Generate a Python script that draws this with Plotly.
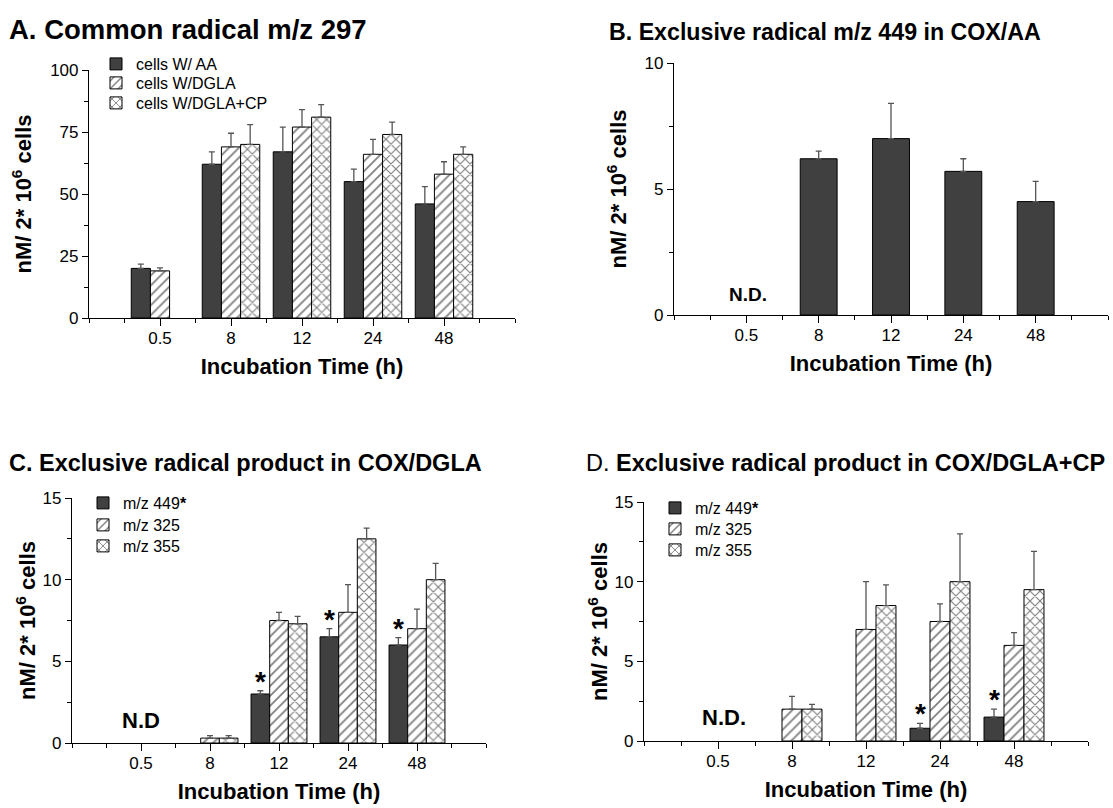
import plotly.graph_objects as go

# ---------------- data ----------------
times = ['0.5', '8', '12', '24', '48']

a_names = ['cells W/ AA', 'cells W/DGLA', 'cells W/DGLA+CP']
a_aa = [20, 62, 67, 55, 46]
a_aa_err = [1.7, 5, 10, 5, 7]
a_dgla = [19, 69, 77, 66, 58]
a_dgla_err = [1.2, 5.5, 7, 6, 5]
a_cp = [None, 70, 81, 74, 66]
a_cp_err = [None, 8, 5, 5, 3]

b_name = 'm/z 449'
b_449 = [None, 6.2, 7.0, 5.7, 4.5]
b_449_err = [None, 0.3, 1.4, 0.5, 0.8]

mz_names = ['m/z 449<b>*</b>', 'm/z 325', 'm/z 355']
c_449 = [None, None, 3.0, 6.5, 6.0]
c_449_err = [None, None, 0.2, 0.5, 0.45]
c_325 = [None, 0.3, 7.5, 8.0, 7.0]
c_325_err = [None, 0.15, 0.5, 1.7, 1.2]
c_355 = [None, 0.3, 7.3, 12.5, 10.0]
c_355_err = [None, 0.15, 0.45, 0.65, 1.0]
c_sig = [False, False, True, True, True]

d_449 = [None, None, None, 0.8, 1.5]
d_449_err = [None, None, None, 0.3, 0.5]
d_325 = [None, 2.0, 7.0, 7.5, 6.0]
d_325_err = [None, 0.8, 3.0, 1.1, 0.8]
d_355 = [None, 2.0, 8.5, 10.0, 9.5]
d_355_err = [None, 0.3, 1.3, 3.0, 2.4]
d_sig = [False, False, False, True, True]

titles = ['<b>A. Common radical m/z 297</b>',
          '<b>B. Exclusive radical m/z 449 in COX/AA</b>',
          '<b>C. Exclusive radical product in COX/DGLA</b>',
          'D. <b>Exclusive radical product in COX/DGLA+CP</b>']
nd_texts = ['N.D.', 'N.D', 'N.D.']
x_title = '<b>Incubation Time (h)</b>'
y_title = '<b>nM/ 2* 10<sup>6</sup> cells</b>'

# ---------------- style ----------------
FONT = 'Arial, Liberation Sans, sans-serif'
W, H = 1113, 808
BARGAP = 0.19
SLOT = (1 - BARGAP) / 3
xpos = list(range(1, len(times) + 1))

styles = [
    dict(color='#404040'),
    dict(color='white', pattern=dict(shape='/', fgcolor='black', bgcolor='white', size=7, solidity=0.25)),
    dict(color='white', pattern=dict(shape='x', fgcolor='black', bgcolor='white', size=7, solidity=0.3)),
]

# legend rows: (text-left px, row-center px) for every legend entry
legend_rows = {
    'A': (137, [64, 83, 103]),
    'C': (124, [503, 525, 546]),
    'D': (696, [508, 529, 550]),
}


def px_dom(a, b, total, flip=False):
    if flip:
        return [1 - b / total, 1 - a / total]
    return [a / total, b / total]


fig = go.Figure()
legend_layout = {}
legend_counter = [0]


def next_legend(text_left, row_center):
    legend_counter[0] += 1
    n = legend_counter[0]
    key = 'legend' if n == 1 else 'legend%d' % n
    legend_layout[key] = dict(
        x=(text_left - 41) / W, y=1 - row_center / H, xanchor='left', yanchor='middle',
        bgcolor='rgba(0,0,0,0)', borderwidth=0, itemwidth=30, tracegroupgap=0,
        font=dict(family=FONT, size=16, color='black'))
    return key


def add_bars(series, errs, names, xa, ya, panel=None, width=None, style_idx=None):
    for k, (vals, er, nm) in enumerate(zip(series, errs, names)):
        st = styles[k if style_idx is None else style_idx]
        marker = dict(line=dict(color='black', width=1), **st)
        kw = {}
        if panel is not None:
            tl, rows = legend_rows[panel]
            kw = dict(legend=next_legend(tl, rows[k]), showlegend=True)
        else:
            kw = dict(showlegend=False)
        fig.add_trace(go.Bar(
            x=xpos, y=vals, name=nm, marker=marker,
            xaxis=xa, yaxis=ya, width=width,
            error_y=dict(type='data', array=er, arrayminus=[0] * len(er), symmetric=False,
                         color='#555555', thickness=1.3, width=3),
            **kw,
        ))


add_bars([a_aa, a_dgla, a_cp], [a_aa_err, a_dgla_err, a_cp_err], a_names, 'x', 'y', panel='A')
add_bars([b_449], [b_449_err], [b_name], 'x2', 'y2', width=0.51, style_idx=0)
add_bars([c_449, c_325, c_355], [c_449_err, c_325_err, c_355_err], mz_names, 'x3', 'y3', panel='C')
add_bars([d_449, d_325, d_355], [d_449_err, d_325_err, d_355_err], mz_names, 'x4', 'y4', panel='D')

# panel geometry (pixels)
panels = [
    dict(x=(89, 515), y=(70, 318), yr=(0, 100), dt=25, ys=12),
    dict(x=(674, 1108), y=(63, 315), yr=(0, 10), dt=5, ys=11),
    dict(x=(72, 486), y=(498, 743), yr=(0, 15), dt=5, ys=0),
    dict(x=(644, 1088), y=(502, 741), yr=(0, 15), dt=5, ys=0),
]

tickfont = dict(family=FONT, size=17, color='black')
for i, p in enumerate(panels):
    sfx = '' if i == 0 else str(i + 1)
    nmax = len(times) + 1
    xa = dict(
        domain=px_dom(*p['x'], W), anchor='y' + sfx, range=[0, nmax], automargin=False,
        tickmode='array', tickvals=xpos, ticktext=times, ticklabelstandoff=-3,
        ticks='outside', ticklen=7, tickwidth=1.2, tickcolor='black',
        showline=True, linecolor='black', linewidth=1.2, showgrid=False, zeroline=False,
        minor=dict(tickmode='array', tickvals=[0] + [v + 0.5 for v in [0] + xpos] + [nmax],
                   ticks='outside', ticklen=4, tickwidth=1.2, tickcolor='black', showgrid=False),
        tickfont=tickfont, fixedrange=True,
        title=dict(text=x_title, font=dict(family=FONT, size=22, color='black'), standoff=12),
    )
    y0, y1 = p['yr']
    ya = dict(
        domain=px_dom(*p['y'], H, flip=True), anchor='x' + sfx, range=[y0, y1], automargin=False,
        tickmode='linear', tick0=0, dtick=p['dt'],
        ticks='outside', ticklen=6, tickwidth=1.2, tickcolor='black',
        showline=True, linecolor='black', linewidth=1.2, showgrid=False, zeroline=False,
        minor=dict(dtick=p['dt'] / 2, ticks='outside', ticklen=4, tickwidth=1.2,
                   tickcolor='black', showgrid=False),
        tickfont=tickfont, fixedrange=True,
        title=dict(text=y_title, font=dict(family=FONT, size=22, color='black'), standoff=p['ys']),
    )
    fig.layout['xaxis' + sfx] = xa
    fig.layout['yaxis' + sfx] = ya

# panel titles
title_pos = [(7, 29, 27.5), (607, 32, 23.2), (7, 463, 23.5), (584, 463, 23.5)]
for t, (tx, ty, fs) in zip(titles, title_pos):
    fig.add_annotation(text=t, xref='paper', yref='paper', x=tx / W, y=1 - ty / H,
                       xanchor='left', yanchor='middle', showarrow=False,
                       font=dict(family=FONT, size=fs, color='black'))

# N.D. labels
nd_specs = [('x2', 'y2', 0.83, 19, 2), ('x3', 'y3', 1.4, 22, 0), ('x4', 'y4', 1.5, 22, 6)]
for txt, (xa, ya, yv, fs, xs) in zip(nd_texts, nd_specs):
    fig.add_annotation(text='<b>%s</b>' % txt, x=xpos[0], y=yv, xref=xa, yref=ya,
                       showarrow=False, xanchor='center', yanchor='middle', xshift=xs,
                       font=dict(family=FONT, size=fs, color='black'))

# significance asterisks above m/z 449 bars
for sig, vals, errs, xa, ya in [(c_sig, c_449, c_449_err, 'x3', 'y3'),
                               (d_sig, d_449, d_449_err, 'x4', 'y4')]:
    for xp, s, v, e in zip(xpos, sig, vals, errs):
        if s:
            fig.add_annotation(text='<b>*</b>', x=xp - SLOT, y=v + e, xref=xa, yref=ya,
                               showarrow=False, xanchor='center', yanchor='bottom', yshift=-8,
                               font=dict(family=FONT, size=28, color='black'))

fig.update_layout(
    width=W, height=H, autosize=False,
    margin=dict(l=0, r=0, t=0, b=0, autoexpand=False),
    paper_bgcolor='white', plot_bgcolor='white',
    barmode='group', bargap=BARGAP, bargroupgap=0,
    font=dict(family=FONT, size=16, color='black'),
    **legend_layout,
)

fig.write_html('out.html', config={'displayModeBar': False},
               post_script="document.body.style.margin='0';document.body.style.padding='0';")
